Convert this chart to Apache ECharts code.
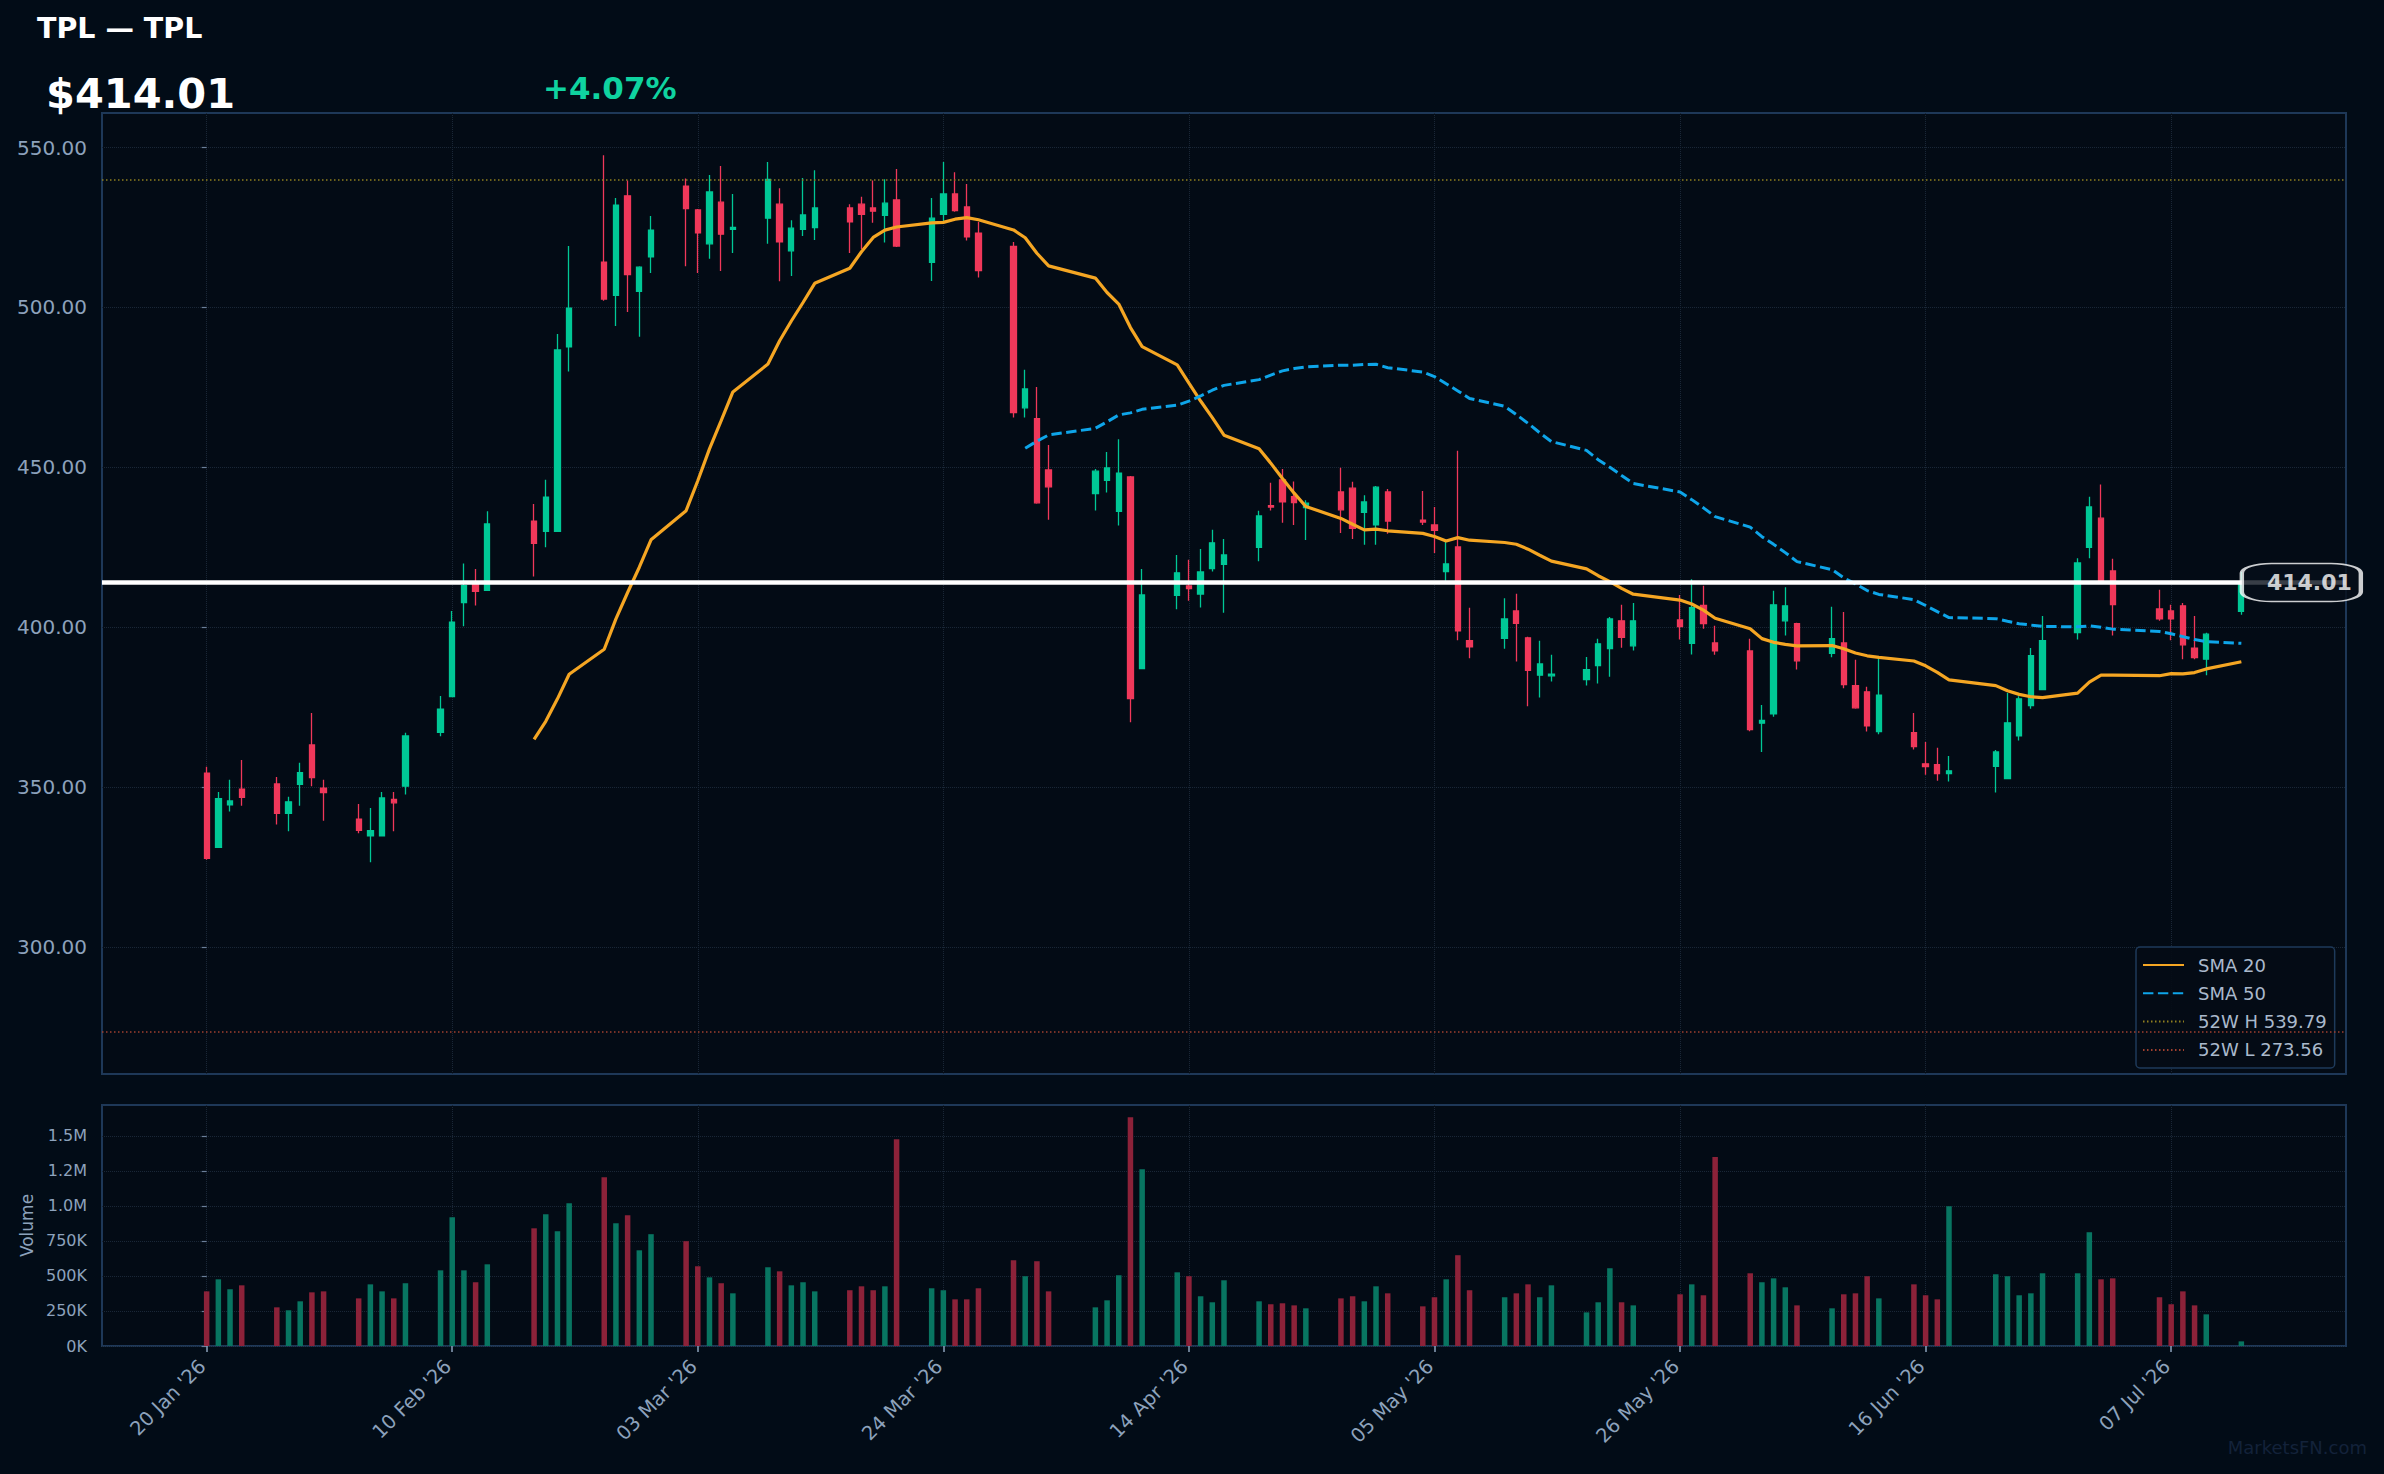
<!DOCTYPE html>
<html>
<head>
<meta charset="utf-8">
<script src="https://cdn.jsdelivr.net/npm/echarts@6/dist/echarts.min.js"></script>
<style>
html,body{margin:0;padding:0;background:#020c17;}
#c{width:2384px;height:1474px;}
</style>
</head>
<body>
<div id="c"></div>
<script>
const ticker = 'TPL';
const companyName = 'TPL';
const dates = [
'2026-01-20','2026-01-21','2026-01-22','2026-01-23','2026-01-26','2026-01-27','2026-01-28','2026-01-29','2026-01-30',
'2026-02-02','2026-02-03','2026-02-04','2026-02-05','2026-02-06','2026-02-09','2026-02-10','2026-02-11','2026-02-12','2026-02-13',
'2026-02-17','2026-02-18','2026-02-19','2026-02-20','2026-02-23','2026-02-24','2026-02-25','2026-02-26','2026-02-27',
'2026-03-02','2026-03-03','2026-03-04','2026-03-05','2026-03-06','2026-03-09','2026-03-10','2026-03-11','2026-03-12','2026-03-13',
'2026-03-16','2026-03-17','2026-03-18','2026-03-19','2026-03-20','2026-03-23','2026-03-24','2026-03-25','2026-03-26','2026-03-27',
'2026-03-30','2026-03-31','2026-04-01','2026-04-02','2026-04-06','2026-04-07','2026-04-08','2026-04-09','2026-04-10',
'2026-04-13','2026-04-14','2026-04-15','2026-04-16','2026-04-17','2026-04-20','2026-04-21','2026-04-22','2026-04-23','2026-04-24',
'2026-04-27','2026-04-28','2026-04-29','2026-04-30','2026-05-01','2026-05-04','2026-05-05','2026-05-06','2026-05-07','2026-05-08',
'2026-05-11','2026-05-12','2026-05-13','2026-05-14','2026-05-15','2026-05-18','2026-05-19','2026-05-20','2026-05-21','2026-05-22',
'2026-05-26','2026-05-27','2026-05-28','2026-05-29','2026-06-01','2026-06-02','2026-06-03','2026-06-04','2026-06-05',
'2026-06-08','2026-06-09','2026-06-10','2026-06-11','2026-06-12','2026-06-15','2026-06-16','2026-06-17','2026-06-18',
'2026-06-22','2026-06-23','2026-06-24','2026-06-25','2026-06-26','2026-06-29','2026-06-30','2026-07-01','2026-07-02',
'2026-07-06','2026-07-07','2026-07-08','2026-07-09','2026-07-10','2026-07-13'
];
const opens = [
354.4,331.2,344.5,349.4,351.0,341.8,350.9,363.2,349.7,
340.0,334.8,334.8,346.2,350.3,367.1,378.3,407.7,413.8,411.5,
433.2,430.0,430.0,487.7,514.2,503.8,534.9,505.0,515.8,
537.9,530.5,519.9,532.9,524.4,527.9,532.3,517.7,524.4,525.0,
531.1,532.3,531.1,528.8,533.6,514.1,529.1,535.5,531.4,523.2,
519.1,468.6,465.2,449.2,441.8,445.9,436.2,447.0,387.1,
410.0,412.9,410.4,418.3,419.7,425.0,438.0,446.1,440.8,437.4,
442.3,443.5,435.9,432.0,442.3,433.5,432.0,417.4,425.1,395.8,
396.5,405.1,396.7,385.0,384.8,383.6,388.0,393.3,402.0,394.2,
402.3,395.0,406.8,395.1,392.6,370.0,372.9,402.0,401.1,
391.8,395.1,381.7,379.8,367.4,367.0,357.3,357.0,354.2,
356.5,352.7,366.0,375.5,380.5,398.3,425.0,434.1,417.6,
405.7,405.1,406.7,393.5,390.0,405.0
];
const highs = [
356.4,348.5,352.3,358.5,353.2,347.0,357.6,373.2,352.3,
344.7,343.5,348.5,348.5,367.0,378.5,405.1,419.9,418.2,436.3,
438.5,446.1,491.7,519.2,547.6,534.2,539.7,512.9,528.6,
540.3,530.8,541.4,544.2,535.5,545.5,537.3,527.3,540.5,542.9,
532.3,534.6,539.7,540.1,543.3,534.2,545.5,542.3,538.6,526.7,
520.5,480.5,475.1,457.0,449.5,454.8,458.8,447.3,418.2,
422.6,421.1,424.5,430.5,427.6,436.4,445.2,449.5,445.6,439.7,
449.9,445.5,441.3,444.2,443.2,442.6,437.6,426.7,455.2,406.1,
409.1,410.5,397.0,395.8,391.4,390.7,396.4,403.2,407.0,407.6,
410.1,415.0,413.0,400.5,396.4,375.7,411.4,412.5,401.4,
406.4,404.8,389.8,381.4,390.2,373.2,364.1,362.3,359.7,
361.6,379.4,378.4,393.5,403.5,421.6,440.8,444.6,421.4,
411.7,407.0,407.6,403.5,398.3,417.3
];
const lows = [
327.3,331.2,342.4,344.2,338.3,336.2,344.2,350.3,339.5,
335.6,326.5,334.8,336.2,347.7,365.9,378.3,400.3,406.8,411.5,
415.9,425.0,430.0,480.0,502.1,494.2,498.6,490.8,510.8,
512.9,510.8,515.2,511.4,517.0,519.9,508.2,509.8,522.3,521.1,
517.0,518.3,526.5,520.3,518.9,508.3,526.7,529.9,520.9,509.4,
465.6,465.6,438.6,433.6,436.5,442.1,431.8,370.3,387.1,
405.6,408.3,406.2,417.4,404.5,420.6,436.5,432.7,432.0,427.3,
429.5,427.6,425.8,425.8,429.2,432.0,423.2,414.5,395.9,390.3,
393.3,389.3,375.3,378.0,383.0,381.8,382.4,384.5,393.6,392.7,
396.2,391.5,399.5,391.4,367.5,361.0,372.0,397.4,386.8,
390.6,380.9,374.5,367.4,366.5,361.8,353.9,352.0,351.8,
348.3,352.7,364.6,374.5,380.5,396.2,421.6,414.0,397.4,
402.0,395.9,390.0,390.0,385.0,403.9
];
const closes = [
327.7,346.4,345.7,346.8,341.8,345.4,354.5,353.0,348.3,
336.5,336.4,346.6,345.1,366.0,374.4,401.6,413.0,411.2,432.3,
426.2,440.7,486.7,499.8,502.6,532.0,510.3,512.6,524.2,
530.9,523.3,536.1,522.9,525.0,540.0,520.5,524.8,528.9,531.1,
526.8,529.1,530.1,532.6,519.2,527.9,535.5,530.3,522.1,511.5,
467.1,474.5,438.9,443.9,448.8,449.8,448.2,377.7,410.1,
417.0,412.1,417.3,426.4,422.6,434.8,437.6,439.2,439.0,438.8,
436.7,430.9,439.2,443.8,433.2,432.9,430.3,419.8,398.9,393.9,
402.6,401.2,386.5,388.5,385.3,386.7,394.8,402.6,396.8,402.0,
400.2,406.1,401.1,392.6,368.0,370.9,407.0,406.7,389.5,
396.4,382.1,374.8,369.2,378.8,362.7,356.4,354.2,355.1,
361.0,370.1,377.6,391.1,395.8,420.1,437.6,414.6,407.1,
402.6,402.6,394.5,390.5,397.82,414.01
];
const volumes = [
390000,476000,405000,433000,276000,255000,319000,383000,390000,
340000,440000,390000,340000,448000,540000,919000,540000,455000,583000,
840000,940000,819000,1019000,1205000,876000,933000,683000,798000,
748000,569000,490000,448000,376000,562000,533000,433000,455000,390000,
398000,426000,398000,426000,1476000,412000,398000,333000,333000,412000,
612000,498000,605000,390000,276000,326000,505000,1633000,1262000,
526000,498000,355000,312000,469000,319000,298000,305000,290000,269000,
340000,355000,319000,426000,376000,283000,348000,476000,648000,398000,
348000,376000,440000,348000,433000,240000,312000,555000,312000,290000,
369000,440000,362000,1348000,519000,455000,483000,419000,290000,
269000,369000,376000,498000,340000,440000,362000,333000,998000,
512000,498000,362000,376000,519000,519000,812000,476000,483000,
348000,298000,390000,290000,226000,33000
];
const tickDates = ['2026-01-20','2026-02-10','2026-03-03','2026-03-24','2026-04-14','2026-05-05','2026-05-26','2026-06-16','2026-07-07'];
const tickLabels = ["20 Jan '26","10 Feb '26","03 Mar '26","24 Mar '26","14 Apr '26","05 May '26","26 May '26","16 Jun '26","07 Jul '26"];
const priceTicks = [300, 350, 400, 450, 500, 550];
const volTicks = [0, 250000, 500000, 750000, 1000000, 1250000, 1500000];
const volTickLabels = ['0K','250K','500K','750K','1.0M','1.2M','1.5M'];
const high52 = 539.79;
const low52 = 273.56;
const smaShort = 20;
const smaLong = 50;

// ---------- derived (x measured in calendar days from the first session) ----------
const DAY = 86400000;
const toTs = s => { const p = s.split('-').map(Number); return Date.UTC(p[0], p[1] - 1, p[2]); };
const t0 = toTs(dates[0]);
const xs = dates.map(d => Math.round((toTs(d) - t0) / DAY));
const tickXs = tickDates.map(d => Math.round((toTs(d) - t0) / DAY));
const n = closes.length;
const lastClose = closes[n - 1];
const prevClose = closes[n - 2];
const pct = (lastClose / prevClose - 1) * 100;
const PAD = 8.95;
const xMin = xs[0] - PAD;
const xMax = xs[n - 1] + PAD;

function sma(period) {
  const out = [];
  for (let i = period - 1; i < n; i++) {
    let s = 0;
    for (let j = i - period + 1; j <= i; j++) s += closes[j];
    out.push([xs[i], s / period]);
  }
  return out;
}

const UP = '#00c896', DOWN = '#f0385a';
const VUP = '#087561', VDOWN = '#8c2239';
const LABEL = '#8da2bc';
const GRID = '#1a2737';
const FRAME = '#1e3858';
const FONT = 'DejaVu Sans';

const candleData = xs.map((t, i) => [t, opens[i], closes[i], lows[i], highs[i]]);
const volData = xs.map((t, i) => ({ value: [t, volumes[i]], itemStyle: { color: closes[i] >= opens[i] ? VUP : VDOWN } }));

const hName = '52W H ' + high52.toFixed(2);
const lName = '52W L ' + low52.toFixed(2);

const chart = echarts.init(document.getElementById('c'), null, { renderer: 'svg', width: 2384, height: 1474 });

const xTickLabel = v => { const k = tickXs.findIndex(t => Math.abs(t - v) < 0.5); return k >= 0 ? tickLabels[k] : ''; };
const hiddenDot = { opacity: 0 };

const option = {
  animation: false,
  backgroundColor: '#020c17',
  textStyle: { fontFamily: FONT },
  title: [
    { text: ticker + ' \u2014 ' + companyName, left: 32, top: 9,
      textStyle: { color: '#ffffff', fontSize: 28.5, fontWeight: 'bold', fontFamily: FONT } },
    { text: '$' + lastClose.toFixed(2), left: 41, top: 67,
      textStyle: { color: '#ffffff', fontSize: 41.5, fontWeight: 'bold', fontFamily: FONT } },
    { text: (pct >= 0 ? '+' : '') + pct.toFixed(2) + '%', left: 538, top: 67,
      textStyle: { color: '#0fd3a0', fontSize: 31, fontWeight: 'bold', fontFamily: FONT } }
  ],
  legend: {
    orient: 'vertical', left: 2136, top: 947,
    padding: [9, 8, 9, 6], itemGap: 10.3, itemWidth: 41, itemHeight: 14,
    backgroundColor: 'rgba(4,12,22,0.92)', borderColor: '#1e3a5a', borderWidth: 1.5, borderRadius: 4,
    itemStyle: { opacity: 0 },
    textStyle: { color: '#aab9cc', fontSize: 18, fontFamily: FONT, padding: [0, 0, 0, 9] },
    data: ['SMA 20', 'SMA 50', hName, lName]
  },
  graphic: [
    { type: 'text', right: 17, bottom: 18, style: { text: 'MarketsFN.com', fill: '#13223a', font: '18px "DejaVu Sans"' } }
  ],
  grid: [
    { left: 102, right: 38, top: 113, height: 961, show: true, backgroundColor: '#030b15', borderColor: FRAME, borderWidth: 2 },
    { left: 102, right: 38, top: 1105, height: 241, show: true, backgroundColor: '#030b15', borderColor: FRAME, borderWidth: 2 }
  ],
  xAxis: [
    { gridIndex: 0, type: 'value', min: xMin, max: xMax,
      axisLine: { show: false },
      axisTick: { show: false, customValues: tickXs },
      axisLabel: { show: false, customValues: tickXs },
      splitLine: { show: true, lineStyle: { color: GRID, type: 'dotted', width: 1 } } },
    { gridIndex: 1, type: 'value', min: xMin, max: xMax,
      axisLine: { show: false },
      axisTick: { show: true, customValues: tickXs, length: 6, lineStyle: { color: LABEL, width: 1.5 } },
      axisLabel: { show: true, customValues: tickXs, rotate: 45, margin: 13, fontSize: 19.5, color: LABEL, fontFamily: FONT,
        padding: [0, 6, 0, 0], formatter: xTickLabel },
      splitLine: { show: true, lineStyle: { color: GRID, type: 'dotted', width: 1 } } }
  ],
  yAxis: [
    { gridIndex: 0, type: 'value', min: 260.3, max: 560.8,
      axisLine: { show: false },
      axisTick: { show: true, customValues: priceTicks, length: 5, lineStyle: { color: '#6b7f99', width: 1.2 } },
      axisLabel: { customValues: priceTicks, margin: 15, fontSize: 20, color: LABEL, fontFamily: FONT, formatter: v => v.toFixed(2) },
      splitLine: { show: true, lineStyle: { color: GRID, type: 'dotted', width: 1 } } },
    { gridIndex: 1, type: 'value', min: 0, max: 1720000,
      name: 'Volume', nameLocation: 'middle', nameRotate: 90, nameGap: 66,
      nameTextStyle: { color: LABEL, fontSize: 17, fontFamily: FONT },
      axisLine: { show: false },
      axisTick: { show: true, customValues: volTicks, length: 5, lineStyle: { color: '#6b7f99', width: 1.2 } },
      axisLabel: { customValues: volTicks, margin: 15, fontSize: 16, color: LABEL, fontFamily: FONT,
        formatter: v => { const k = volTicks.findIndex(t => Math.abs(t - v) < 1); return k >= 0 ? volTickLabels[k] : ''; } },
      splitLine: { show: true, lineStyle: { color: GRID, type: 'dotted', width: 1 } } }
  ],
  series: [
    { name: hName, type: 'line', xAxisIndex: 0, yAxisIndex: 0, data: [], symbol: 'none', z: 1, itemStyle: hiddenDot,
      lineStyle: { color: '#8f7f1f', width: 1.5, type: [1.5, 2.5] },
      markLine: { silent: true, symbol: ['none', 'none'], label: { show: false },
        lineStyle: { color: '#8f7f1f', width: 1.5, type: [1.5, 2.5] }, data: [{ yAxis: high52 }] } },
    { name: lName, type: 'line', xAxisIndex: 0, yAxisIndex: 0, data: [], symbol: 'none', z: 1, itemStyle: hiddenDot,
      lineStyle: { color: '#a0402f', width: 1.5, type: [1.5, 2.5] },
      markLine: { silent: true, symbol: ['none', 'none'], label: { show: false },
        lineStyle: { color: '#a0402f', width: 1.5, type: [1.5, 2.5] }, data: [{ yAxis: low52 }] } },
    { name: ticker, type: 'candlestick', xAxisIndex: 0, yAxisIndex: 0, z: 2,
      barWidth: 5.8,
      encode: { x: 0, y: [1, 2, 3, 4] },
      itemStyle: { color: UP, color0: DOWN, borderColor: UP, borderColor0: DOWN, borderWidth: 1.3 },
      data: candleData,
      markLine: { silent: true, symbol: ['none', 'none'], label: { show: false }, z: 6,
        lineStyle: { color: '#ffffff', width: 4.5, type: 'solid' }, data: [{ yAxis: lastClose }] } },
    { name: 'SMA 20', type: 'line', xAxisIndex: 0, yAxisIndex: 0, z: 4, symbol: 'none', showSymbol: false, itemStyle: hiddenDot,
      lineStyle: { color: '#f5a623', width: 3.2 }, data: sma(smaShort) },
    { name: 'SMA 50', type: 'line', xAxisIndex: 0, yAxisIndex: 0, z: 4, symbol: 'none', showSymbol: false, itemStyle: hiddenDot,
      lineStyle: { color: '#0ea5e9', width: 3.0, type: [10.4, 4.5] }, data: sma(smaLong) },
    { name: 'Volume', type: 'bar', xAxisIndex: 1, yAxisIndex: 1, barWidth: 5.5, data: volData },
    { name: 'lastPrice', type: 'scatter', xAxisIndex: 0, yAxisIndex: 0, z: 20, clip: false, silent: true,
      data: [[xs[n - 1], lastClose]],
      symbol: 'roundRect', symbolSize: [119, 38], symbolOffset: [60, 0],
      itemStyle: { color: '#060e19', borderColor: '#ffffff', borderWidth: 2.5 },
      label: { show: true, position: 'inside', offset: [8, 0], formatter: () => lastClose.toFixed(2),
        color: '#ffffff', fontSize: 22, fontWeight: 'bold', fontFamily: FONT } }
  ]
};
chart.setOption(option);
</script>
</body>
</html>
